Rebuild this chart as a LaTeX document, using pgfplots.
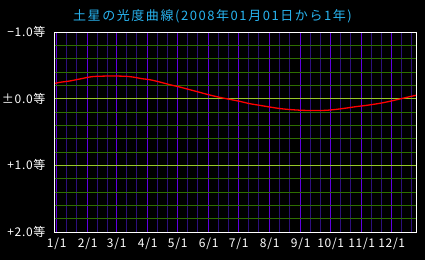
\documentclass[border=0pt]{standalone}
\usepackage{pgfplots}
\pgfplotsset{compat=1.18}
\usepackage{fontspec}
\setmainfont{Noto Sans CJK JP}
\newfontfamily\jptitle[LetterSpace=12]{Noto Sans CJK JP}
\newfontfamily\jplab[LetterSpace=6]{Noto Sans CJK JP}
\definecolor{titlecol}{RGB}{40,180,240}
\definecolor{monthcol}{RGB}{95,0,225}
\definecolor{tencol}{RGB}{45,15,125}
\definecolor{majgreen}{RGB}{150,200,40}
\definecolor{mingreen}{RGB}{45,110,0}
\begin{document}
\begin{tikzpicture}
\useasboundingbox (-55pt,-28pt) rectangle (370pt,232pt);
\fill[black] (-55pt,-28pt) rectangle (370pt,232pt);
\node[text=titlecol, font=\jptitle\fontsize{13}{15}\selectfont, anchor=center] at (157.5pt,216pt) {土星の光度曲線(2008年01月01日から1年)};
\begin{axis}[
  scale only axis,
  width=361pt, height=200pt,
  at={(0,0)}, anchor=south west,
  xmin=-1.7, xmax=359.3,
  ymin=-1, ymax=2,
  y dir=reverse,
  axis line style={white, line width=1pt},
  xtick={0,31,60,91,121,152,182,213,244,274,305,335},
  xticklabels={1/1,2/1,3/1,4/1,5/1,6/1,7/1,8/1,9/1,10/1,11/1,12/1},
  minor xtick={10,20,41,51,70,80,101,111,131,141,162,172,192,202,223,233,254,264,284,294,315,325,345,355},
  ytick={-1,0,1,2},
  yticklabels={−1.0等,±0.0等,+1.0等,+2.0等},
  minor ytick={-0.8,-0.6,-0.4,-0.2,0.2,0.4,0.6,0.8,1.2,1.4,1.6,1.8},
  major tick length=0pt, minor tick length=0pt,
  xmajorgrids, xminorgrids, ymajorgrids, yminorgrids,
  x grid style={monthcol, line width=0.75pt},
  minor x grid style={tencol, line width=0.75pt},
  y grid style={majgreen, line width=0.75pt},
  minor y grid style={mingreen, line width=0.75pt},
  xticklabel style={text=white, font=\jplab\fontsize{12}{13}\selectfont, anchor=north, yshift=-2pt},
  yticklabel style={text=white, font=\jplab\fontsize{12}{13}\selectfont, anchor=east, xshift=-6pt},
  clip=true,
]
\addplot[red, line width=1.3pt, smooth] coordinates {
(-1.5,-0.23) (3,-0.245) (13,-0.265) (23,-0.295) (33,-0.325) (40,-0.335) (55,-0.34) (70,-0.335)
(78,-0.32) (85,-0.30) (93,-0.285) (103,-0.25) (113,-0.21) (123,-0.175) (133,-0.135)
(143,-0.095) (153,-0.055) (163,-0.02) (173,0.01) (183,0.04) (193,0.075) (203,0.10)
(213,0.125) (223,0.148) (233,0.163) (246,0.175) (258,0.177) (269,0.175) (280,0.16)
(290,0.14) (300,0.118) (310,0.10) (323,0.07) (333,0.04) (343,0.005) (353,-0.03) (359.3,-0.05)
};
\end{axis}
\end{tikzpicture}
\end{document}
